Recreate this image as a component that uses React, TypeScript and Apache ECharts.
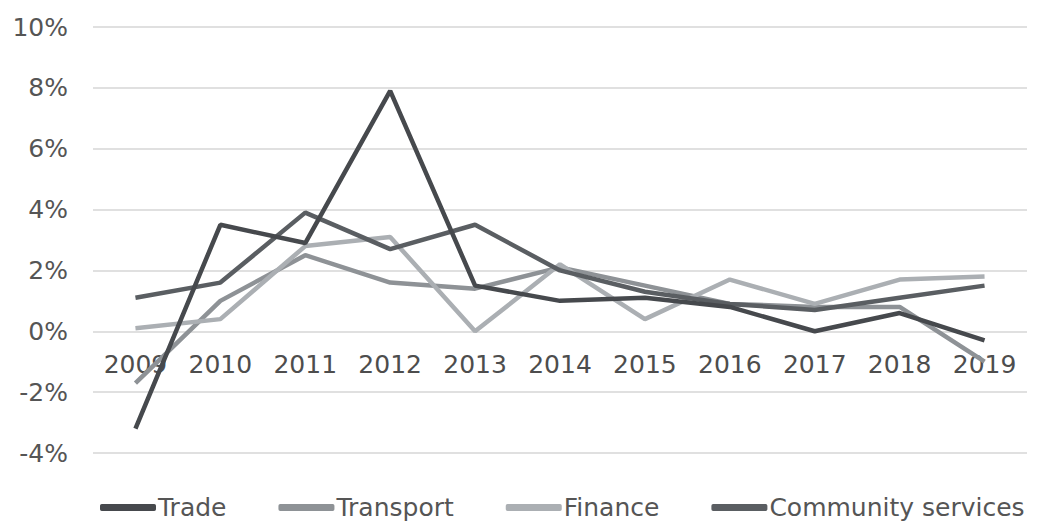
import React, { useEffect, useRef } from "react";
import * as echarts from "echarts";

const years = ["2009", "2010", "2011", "2012", "2013", "2014", "2015", "2016", "2017", "2018", "2019"];
const trade = [-3.2, 3.5, 2.9, 7.9, 1.5, 1.0, 1.1, 0.8, 0.0, 0.6, -0.3];
const transport = [-1.7, 1.0, 2.5, 1.6, 1.4, 2.1, 1.5, 0.9, 0.8, 0.8, -1.0];
const finance = [0.1, 0.4, 2.8, 3.1, 0.0, 2.2, 0.4, 1.7, 0.9, 1.7, 1.8];
const community = [1.1, 1.6, 3.9, 2.7, 3.5, 2.0, 1.3, 0.9, 0.7, 1.1, 1.5];

const seriesNames = ["Trade", "Transport", "Finance", "Community services"];
const seriesColors = ["#46494d", "#8e9296", "#abafb3", "#5a5e62"];
const seriesData = [trade, transport, finance, community];

export default function App() {
  const ref = useRef<HTMLDivElement>(null);
  useEffect(() => {
    if (!ref.current) return;
    const chart = echarts.init(ref.current, null, { renderer: "svg" });
    chart.setOption({
      animation: false,
      backgroundColor: "#ffffff",
      grid: { left: 93, right: 15, top: 27, bottom: 74, containLabel: false },
      legend: {
        top: 490,
        left: 95,
        itemWidth: 56,
        itemHeight: 7,
        itemGap: 52,
        icon: "roundRect",
        textStyle: { fontFamily: "DejaVu Sans", fontSize: 25, color: "#555555", padding: [0, 0, 0, -3] },
        data: seriesNames,
      },
      xAxis: {
        type: "category",
        data: years,
        boundaryGap: true,
        offset: -124,
        axisLine: { show: false },
        axisTick: { show: false },
        axisLabel: { fontFamily: "DejaVu Sans", fontSize: 25, color: "#4d4d4d", margin: 23 },
      },
      yAxis: {
        type: "value",
        min: -4,
        max: 10,
        interval: 2,
        axisLine: { show: false },
        axisTick: { show: false },
        splitLine: { lineStyle: { color: "#e0e0e0", width: 2 } },
        axisLabel: { fontFamily: "DejaVu Sans", fontSize: 25, color: "#555555", margin: 25, formatter: (v: number) => `${v}%` },
      },
      series: seriesNames.map((name, i) => ({
        name,
        type: "line",
        data: seriesData[i],
        symbol: "none",
        lineStyle: { width: 4.5, color: seriesColors[i] },
        itemStyle: { color: seriesColors[i] },
        z: i === 0 ? 5 : 3,
      })),
    });
    return () => chart.dispose();
  }, []);
  return <div ref={ref} style={{ position: "absolute", left: 0, top: 0, width: 1042, height: 527 }} />;
}
